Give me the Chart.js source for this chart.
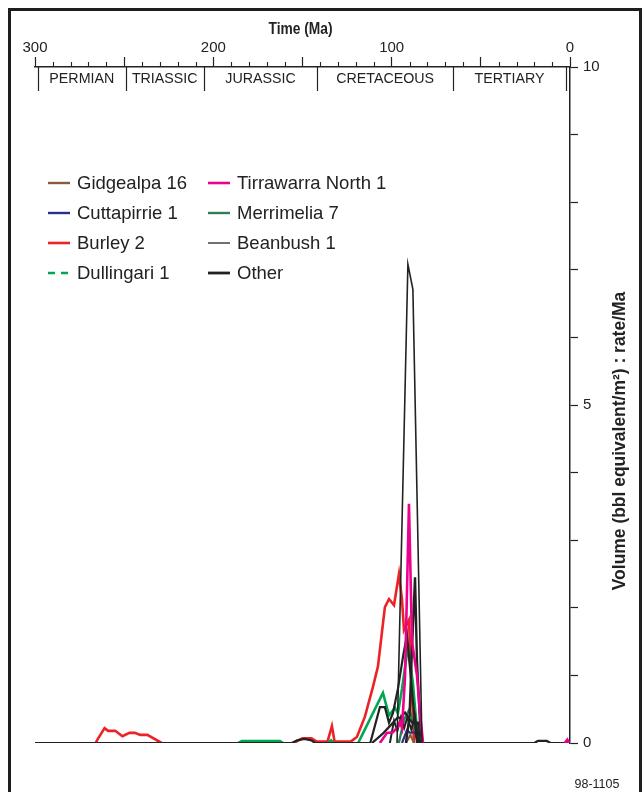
<!DOCTYPE html>
<html><head><meta charset="utf-8">
<script src="https://cdn.jsdelivr.net/npm/chart.js@4.4.1/dist/chart.umd.min.js"></script>
<style>html,body{margin:0;padding:0;background:#fff;}canvas{display:block}</style>
</head><body>
<canvas id="c" width="643" height="792"></canvas>
<script>
// ---- data (age in Ma, value in bbl equivalent/m2 per Ma) ----
const xTickLabels = [300, 200, 100, 0];
const yTickLabels = [0, 5, 10];
const periods = ['PERMIAN', 'TRIASSIC', 'JURASSIC', 'CRETACEOUS', 'TERTIARY'];
const periodBounds = [298.5, 249, 205.5, 141.6, 65.7, 2.2];

const gidgealpa16Age = [92, 89.5, 87.5];
const gidgealpa16Val = [0, 0.12, 0];
const cuttapirrie1Age = [94.2, 91.4, 89.7, 86.9, 85.2];
const cuttapirrie1Val = [0, 0.19, 0.15, 0.16, 0];
const burley2Age = [266, 265, 261, 259, 255, 251, 247, 244, 241, 237, 229, null, 155, 150, 145, 142, 136, 133.5, 132, 123, 119.5, 115, 110.5, 107.7, 103.8, 101.5, 98.7, 95.9, 94.2, 93.1, 90.3, 87.5];
const burley2Val = [0, 0.05, 0.22, 0.18, 0.18, 0.1, 0.15, 0.15, 0.12, 0.12, 0, null, 0, 0.07, 0.07, 0.02, 0.02, 0.25, 0.02, 0.02, 0.09, 0.39, 0.83, 1.13, 2.01, 2.13, 2.04, 2.5, 2.12, 1.67, 1.82, 0];
const dullingari1Age = [186, 184, 162.6, 161, null, 135.5, 134, 132.5, null, 118.8, 104.9, 101.5, 98.1, 96.5, 94.2, 90.9, 88.1, 85.2];
const dullingari1Val = [0, 0.03, 0.03, 0, null, 0, 0.04, 0, null, 0, 0.74, 0.41, 0.52, 0.44, 0.8, 1.42, 0.89, 0];
const tirrawarraN1Age = [106.6, 102.6, 99.3, 96.5, 95.3, 94.2, 92.5, 90.3, 88.6, 85.8, 84.1, 82.4, null, 3, 1.5, 0.5];
const tirrawarraN1Val = [0, 0.15, 0.16, 0.24, 0.31, 0.22, 0.98, 3.54, 1.5, 1.0, 0.44, 0, null, 0, 0.05, 0];
const merrimelia7Age = [96, 93, 90, 87, 85];
const merrimelia7Val = [0, 0.35, 0.5, 0.2, 0];
const beanbush1Age = [97, 90.9, 88.1, 83];
const beanbush1Val = [0, 7.08, 6.71, 0];
const otherAAge = [300, 156, 153, 149, 145, 143, 112, 106.6, 103.8, 101.5, 99.3, 96.5, 93.5, 91.4, 89.7, 88, 85.8, 20, 18, 13, 11, 0];
const otherAVal = [0, 0, 0.04, 0.06, 0.04, 0, 0, 0.53, 0.53, 0.3, 0.44, 0.8, 1.3, 1.6, 1.1, 0.6, 0, 0, 0.03, 0.03, 0, 0];
const otherBAge = [92, 90, 88.6, 86.9, 85.8, 84.1, 83];
const otherBVal = [0, 0.4, 1.4, 2.45, 1.2, 0.3, 0];
const otherCAge = [111, 104.5, 99.3, 96.5, 95.3, 92.5, 88.6, 85.2, 84.1];
const otherCVal = [0, 0.15, 0.3, 0.38, 0.37, 0.45, 0.3, 0.3, 0];
const otherDAge = [101, 98.7, 96.8, 94.8, 93, 91.2, 89, 87, 85];
const otherDVal = [0, 0.33, 0.18, 0.38, 0.22, 0.38, 0.2, 0.4, 0];

// ---- styling ----
const C = {
  gid: '#8a5a3c', cut: '#2a2f8c', bur: '#ec2227', dul: '#00a651',
  tir: '#ec008c', mer: '#2f7d52', bean: '#222222', oth: '#222222'
};
const pts = (a, v) => a.map((x, i) => ({x: x, y: v[i]}));
function ds(label, a, v, color, w) {
  return {label, data: pts(a, v), borderColor: color, borderWidth: w, pointRadius: 0,
          fill: false, tension: 0, spanGaps: false};
}
const datasets = [
  ds('Beanbush 1', beanbush1Age, beanbush1Val, C.bean, 1.6),
  ds('Tirrawarra North 1', tirrawarraN1Age, tirrawarraN1Val, C.tir, 2.6),
  ds('Other', otherBAge, otherBVal, C.oth, 2.4),
  ds('Other', otherAAge, otherAVal, C.oth, 2.2),
  ds('Other', otherCAge, otherCVal, C.oth, 2.2),
  ds('Other', otherDAge, otherDVal, C.oth, 2.0),
  ds('Gidgealpa 16', gidgealpa16Age, gidgealpa16Val, C.gid, 2.2),
  ds('Cuttapirrie 1', cuttapirrie1Age, cuttapirrie1Val, C.cut, 2.2),
  ds('Merrimelia 7', merrimelia7Age, merrimelia7Val, C.mer, 2.4),
  ds('Dullingari 1', dullingari1Age, dullingari1Val, C.dul, 2.6),
  ds('Burley 2', burley2Age, burley2Val, C.bur, 2.6)
];
const legendItems = [
  {label: 'Gidgealpa 16', color: C.gid, w: 2.4, dash: []},
  {label: 'Cuttapirrie 1', color: C.cut, w: 2.4, dash: []},
  {label: 'Burley 2', color: C.bur, w: 2.6, dash: []},
  {label: 'Dullingari 1', color: C.dul, w: 2.4, dash: [7, 6]},
  {label: 'Tirrawarra North 1', color: C.tir, w: 2.6, dash: []},
  {label: 'Merrimelia 7', color: C.mer, w: 2.4, dash: []},
  {label: 'Beanbush 1', color: C.bean, w: 1.3, dash: []},
  {label: 'Other', color: C.oth, w: 2.8, dash: []}
];

const FONT = "'Liberation Sans', Arial, Helvetica, sans-serif";

function condensedText(ctx, text, x, y, sx) {
  ctx.save();
  ctx.translate(x, y);
  ctx.scale(sx, 1);
  ctx.fillText(text, 0, 0);
  ctx.restore();
}

const decor = {
  id: 'decor',
  beforeDraw(chart) {
    const ctx = chart.ctx;
    ctx.save();
    ctx.fillStyle = '#fff';
    ctx.fillRect(0, 0, chart.width, chart.height);
    ctx.restore();
  },
  afterDraw(chart) {
    const ctx = chart.ctx, xs = chart.scales.x, ca = chart.chartArea;
    ctx.save();
    // frame
    ctx.fillStyle = '#1e1e1e';
    ctx.fillRect(8, 8, 634, 3);
    ctx.fillRect(8, 8, 3, 784);
    ctx.fillRect(639, 8, 3, 784);
    // minor ticks
    ctx.strokeStyle = '#222'; ctx.lineWidth = 1.1;
    for (let v = 0; v <= 300; v += 10) {
      if (v % 50 === 0) continue;
      const px = Math.round(xs.getPixelForValue(v)) + 0.5;
      ctx.beginPath(); ctx.moveTo(px, ca.top - 5); ctx.lineTo(px, ca.top); ctx.stroke();
    }
    // period dividers + labels
    ctx.lineWidth = 1.2;
    periodBounds.forEach(b => {
      const px = Math.round(xs.getPixelForValue(b)) + 0.5;
      ctx.beginPath(); ctx.moveTo(px, ca.top); ctx.lineTo(px, ca.top + 24); ctx.stroke();
    });
    ctx.fillStyle = '#222'; ctx.font = '15px ' + FONT;
    ctx.textAlign = 'center'; ctx.textBaseline = 'middle';
    periods.forEach((p, i) => {
      const mx = (xs.getPixelForValue(periodBounds[i]) + xs.getPixelForValue(periodBounds[i + 1])) / 2;
      condensedText(ctx, p, mx, ca.top + 12, 0.95);
    });
    // axis titles
    ctx.font = 'bold 16px ' + FONT;
    condensedText(ctx, 'Time (Ma)', (ca.left + ca.right) / 2 - 2, 30, 0.86);
    ctx.save();
    ctx.translate(620, 441); ctx.rotate(-Math.PI / 2);
    ctx.font = 'bold 18px ' + FONT;
    condensedText(ctx, 'Volume (bbl equivalent/m\u00B2) : rate/Ma', 0, 0, 0.97);
    ctx.restore();
    // figure number
    ctx.font = '12.5px ' + FONT;
    ctx.fillText('98-1105', 597, 785);
    // legend
    ctx.font = '18.5px ' + FONT; ctx.textAlign = 'left';
    legendItems.forEach((it, i) => {
      const col = Math.floor(i / 4), row = i % 4;
      const lx = col === 0 ? 48 : 208, ty = 183 + row * 30;
      ctx.strokeStyle = it.color; ctx.lineWidth = it.w; ctx.setLineDash(it.dash);
      ctx.beginPath(); ctx.moveTo(lx, ty); ctx.lineTo(lx + 22, ty); ctx.stroke();
      ctx.setLineDash([]);
      ctx.fillStyle = '#222';
      ctx.fillText(it.label, lx + 29, ty + 1);
    });
    ctx.restore();
  }
};

new Chart(document.getElementById('c'), {
  type: 'line',
  data: {datasets},
  plugins: [decor],
  options: {
    responsive: false, animation: false, devicePixelRatio: 1,
    layout: {padding: {left: 35, top: 11, right: 0, bottom: 49}},
    plugins: {legend: {display: false}, tooltip: {enabled: false}},
    scales: {
      x: {
        type: 'linear', position: 'top', reverse: true, min: 0, max: 300,
        afterFit: s => { s.height = 56; },
        ticks: {stepSize: 10, autoSkip: false, maxRotation: 0, padding: 0, color: '#222',
                font: {size: 15, family: FONT},
                callback: v => xTickLabels.includes(v) ? String(v) : ''},
        grid: {drawOnChartArea: false, tickLength: 10, tickWidth: 1.2,
               tickColor: c => (c.tick && c.tick.value % 50 === 0) ? '#222' : 'rgba(0,0,0,0)'},
        border: {display: true, color: '#222', width: 1.5}
      },
      y: {
        position: 'right', min: 0, max: 10,
        afterFit: s => { s.width = 73; },
        ticks: {stepSize: 1, autoSkip: false, padding: 5, color: '#222',
                font: {size: 15, family: FONT},
                callback: v => yTickLabels.includes(v) ? String(v) : ''},
        grid: {drawOnChartArea: false, tickLength: 8, tickWidth: 1.2, tickColor: '#222'},
        border: {display: true, color: '#222', width: 1.5}
      }
    }
  }
});
</script>
</body></html>
